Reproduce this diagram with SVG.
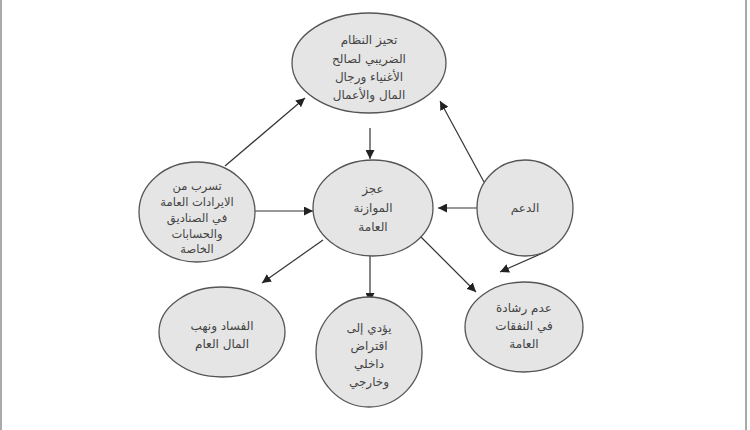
<svg xmlns="http://www.w3.org/2000/svg" width="750" height="430" viewBox="0 0 750 430">
<style>
.n{fill:#e5e5e5;stroke:#555;stroke-width:1.3}
.t{font-family:"DejaVu Sans",sans-serif;font-size:12px;fill:#444;text-anchor:middle;direction:rtl}
.c{stroke:#333;stroke-width:1.2;fill:none;marker-end:url(#a)}
</style>
<defs><marker id="a" viewBox="0 0 10 10" refX="10" refY="5" markerWidth="9" markerHeight="9" orient="auto" markerUnits="userSpaceOnUse"><path d="M0,0L10,5L0,10z" fill="#222"/></marker></defs>
<rect width="750" height="430" fill="#fff"/>
<line x1="1" y1="0" x2="1" y2="430" stroke="#555"/>
<line x1="746" y1="0" x2="746" y2="430" stroke="#555"/>
<g id="connectors">
<line class="c" x1="225" y1="166" x2="305" y2="98"/>
<line class="c" x1="484" y1="182" x2="440" y2="101"/>
<line class="c" x1="370" y1="128" x2="370" y2="159"/>
<line class="c" x1="254" y1="211" x2="313" y2="211"/>
<line class="c" x1="477" y1="208" x2="438" y2="208"/>
<line class="c" x1="323" y1="240" x2="262" y2="283"/>
<line class="c" x1="370" y1="256" x2="370" y2="302"/>
<line class="c" x1="419" y1="235" x2="476" y2="292"/>
<line class="c" x1="545" y1="252" x2="500" y2="272"/>
</g>
<g id="top"><ellipse class="n" cx="369" cy="63" rx="77" ry="50"/>
<text class="t" x="369" y="44">تحيز النظام</text><text class="t" x="369" y="63">الضريبي لصالح</text><text class="t" x="369" y="81">الأغنياء ورجال</text><text class="t" x="369" y="99">المال والأعمال</text></g>
<g id="center"><ellipse class="n" cx="373" cy="208" rx="60" ry="48"/>
<text class="t" x="373" y="193">عجز</text><text class="t" x="373" y="212">الموازنة</text><text class="t" x="373" y="231">العامة</text></g>
<g id="left"><ellipse class="n" cx="197" cy="212" rx="58" ry="50"/>
<text class="t" x="197" y="190" style="font-size:11.5px">تسرب من</text><text class="t" x="197" y="206" style="font-size:11.5px">الايرادات العامة</text><text class="t" x="197" y="222" style="font-size:11.5px">في الصناديق</text><text class="t" x="197" y="238" style="font-size:11.5px">والحسابات</text><text class="t" x="197" y="253" style="font-size:11.5px">الخاصة</text></g>
<g id="right"><circle class="n" cx="525" cy="208" r="48"/>
<text class="t" x="525" y="212">الدعم</text></g>
<g id="bl"><ellipse class="n" cx="222" cy="332" rx="63" ry="45"/>
<text class="t" x="222" y="330">الفساد ونهب</text><text class="t" x="222" y="348">المال العام</text></g>
<g id="bm"><ellipse class="n" cx="369" cy="352" rx="53" ry="55"/>
<text class="t" x="369" y="332">يؤدي إلى</text><text class="t" x="369" y="350">اقتراض</text><text class="t" x="369" y="368">داخلي</text><text class="t" x="369" y="386">وخارجي</text></g>
<g id="br"><ellipse class="n" cx="524" cy="327" rx="59" ry="45"/>
<text class="t" x="524" y="312">عدم رشادة</text><text class="t" x="524" y="330">في النفقات</text><text class="t" x="524" y="348">العامة</text></g>
</svg>
